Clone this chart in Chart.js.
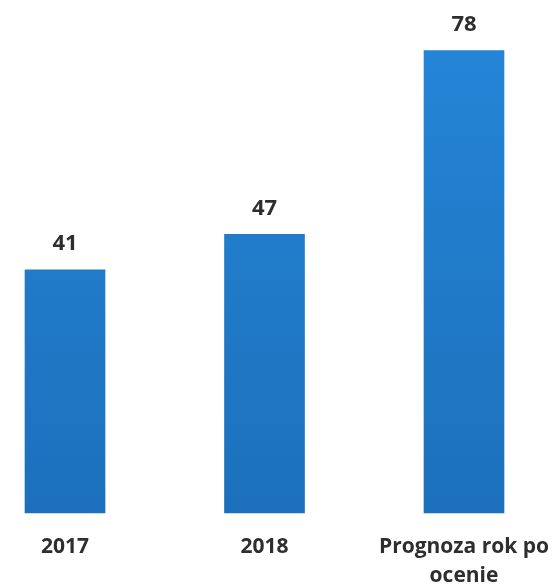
<!DOCTYPE html>
<html>
<head>
<meta charset="utf-8">
<script src="https://cdn.jsdelivr.net/npm/chart.js@4/dist/chart.umd.min.js"></script>
<style>
  html, body { margin: 0; padding: 0; background: #ffffff; }
  #wrap { width: 552px; height: 586px; }
</style>
</head>
<body>
<div id="wrap"><canvas id="chart"></canvas></div>
<script>
"use strict";

const categories = ["2017", "2018", ["Prognoza rok po", "ocenie"]];
const values = [41, 47, 78];
const valueLabels = ["41", "47", "78"];

const textColor = "#2e2e2e";
const fontFamily = "'Open Sans', 'DejaVu Sans', sans-serif";

// value labels above each bar
const valueLabelPlugin = {
  id: "valueLabels",
  afterDatasetsDraw: (chart) => {
    const { ctx } = chart;
    const meta = chart.getDatasetMeta(0);
    ctx.save();
    ctx.fillStyle = textColor;
    ctx.font = `bold 22px ${fontFamily}`;
    ctx.textAlign = "center";
    ctx.textBaseline = "middle";
    meta.data.forEach((bar, i) => {
      const { x, y } = bar.getProps(["x", "y"], true);
      ctx.fillText(valueLabels[i], x, y - 26);
    });
    ctx.restore();
  },
};

const main = () => {
  const canvas = document.getElementById("chart");
  if (!(canvas instanceof HTMLCanvasElement)) throw new Error();
  const ctx = canvas.getContext("2d");

  /** @type {(context: any) => any} */
  const barFill = (context) => {
    const { chartArea } = context.chart;
    if (!chartArea) return "#1f7dcf";
    const g = ctx.createLinearGradient(0, chartArea.top, 0, chartArea.bottom);
    g.addColorStop(0, "#2586d8");
    g.addColorStop(1, "#1c70bb");
    return g;
  };

  new Chart(canvas, {
    type: "bar",
    data: {
      labels: categories,
      datasets: [
        {
          data: values,
          backgroundColor: barFill,
          borderWidth: 0,
          barThickness: 80,
          clip: false,
        },
      ],
    },
    options: {
      responsive: true,
      maintainAspectRatio: false,
      animation: false,
      devicePixelRatio: 1,
      layout: { padding: { left: 65, right: 88, top: 15, bottom: 0 } },
      plugins: {
        legend: { display: false },
        tooltip: { enabled: false },
      },
      scales: {
        x: {
          offset: false,
          grid: { display: false, drawTicks: false },
          border: { display: false },
          ticks: {
            color: textColor,
            padding: 20,
            maxRotation: 0,
            autoSkip: false,
            font: { family: fontFamily, size: 21, weight: "bold", lineHeight: "29px" },
          },
          afterFit: (scale) => {
            // labels may hang past the plot edges, like the original
            scale.paddingLeft = 0;
            scale.paddingRight = 0;
            scale.height = 73;
          },
        },
        y: {
          display: false,
          min: 0,
          max: 84,
        },
      },
    },
    plugins: [valueLabelPlugin],
  });
};

main();
</script>
</body>
</html>
